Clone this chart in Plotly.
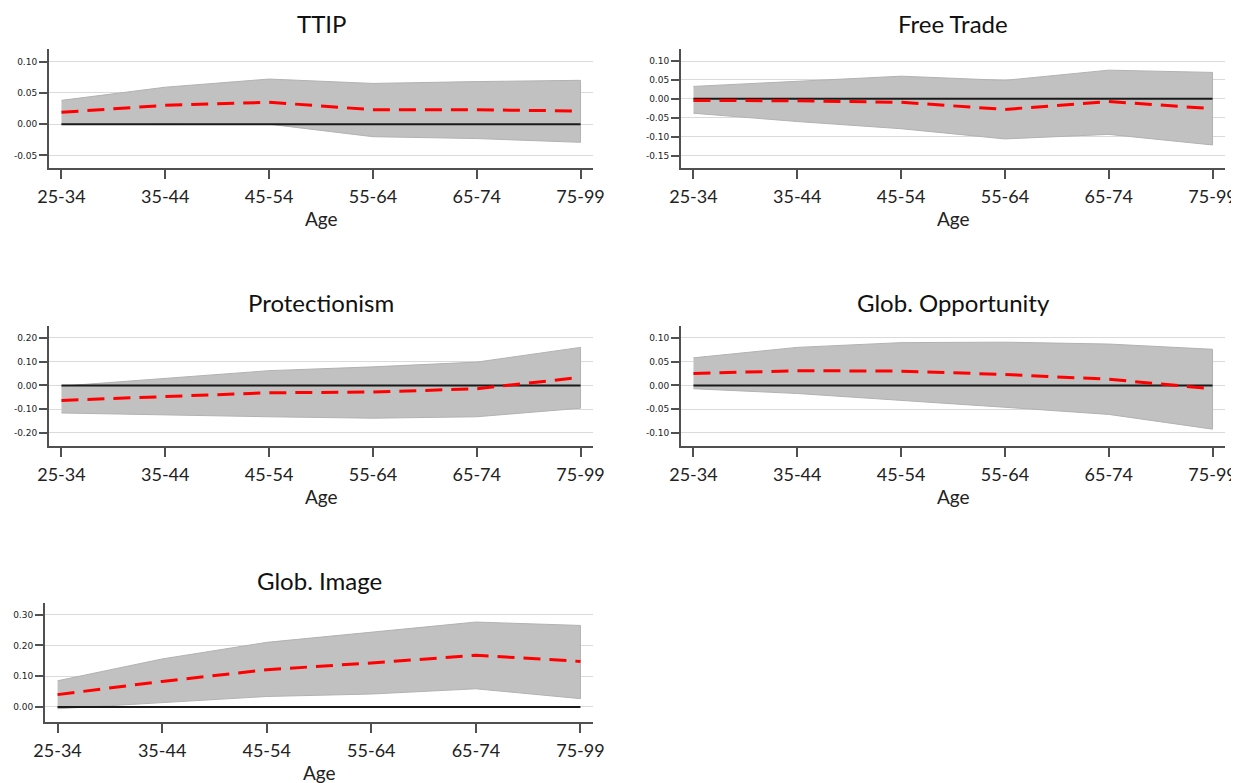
import plotly.graph_objects as go

OFF = 8  # page body margin compensation
W, H = 1239 - OFF, 783

age_groups = ["25-34", "35-44", "45-54", "55-64", "65-74", "75-99"]
x_idx = [0, 1, 2, 3, 4, 5]

titles = ["TTIP", "Free Trade", "Protectionism", "Glob. Opportunity", "Glob. Image"]

# point estimates (red dashed)
ttip_est = [0.019, 0.030, 0.035, 0.023, 0.023, 0.021]
free_est = [-0.004, -0.005, -0.009, -0.028, -0.007, -0.026]
prot_est = [-0.063, -0.048, -0.031, -0.028, -0.014, 0.034]
opp_est = [0.025, 0.031, 0.030, 0.023, 0.013, -0.007]
img_est = [0.040, 0.083, 0.121, 0.143, 0.168, 0.148]

# upper confidence bounds
ttip_hi = [0.038, 0.059, 0.072, 0.065, 0.068, 0.070]
free_hi = [0.033, 0.047, 0.060, 0.049, 0.076, 0.070]
prot_hi = [-0.003, 0.030, 0.062, 0.078, 0.098, 0.160]
opp_hi = [0.058, 0.080, 0.090, 0.091, 0.087, 0.076]
img_hi = [0.085, 0.156, 0.210, 0.243, 0.276, 0.265]

# lower confidence bounds
ttip_lo = [0.000, 0.001, 0.000, -0.020, -0.023, -0.029]
free_lo = [-0.038, -0.060, -0.079, -0.106, -0.094, -0.122]
prot_lo = [-0.116, -0.124, -0.132, -0.138, -0.132, -0.096]
opp_lo = [-0.007, -0.017, -0.031, -0.046, -0.061, -0.092]
img_lo = [-0.006, 0.013, 0.034, 0.042, 0.059, 0.027]

# y tick values / labels per panel
ttip_ticks = [-0.05, 0.0, 0.05, 0.10]
ttip_ticktext = ["-0.05", "0.00", "0.05", "0.10"]
free_ticks = [-0.15, -0.10, -0.05, 0.0, 0.05, 0.10]
free_ticktext = ["-0.15", "-0.10", "-0.05", "0.00", "0.05", "0.10"]
prot_ticks = [-0.20, -0.10, 0.0, 0.10, 0.20]
prot_ticktext = ["-0.20", "-0.10", "0.00", "0.10", "0.20"]
opp_ticks = [-0.10, -0.05, 0.0, 0.05, 0.10]
opp_ticktext = ["-0.10", "-0.05", "0.00", "0.05", "0.10"]
img_ticks = [0.0, 0.10, 0.20, 0.30]
img_ticktext = ["0.00", "0.10", "0.20", "0.30"]

panels = [
    dict(est=ttip_est, hi=ttip_hi, lo=ttip_lo, tv=ttip_ticks, tt=ttip_ticktext,
         yr=[-0.070, 0.120], px=(49, 593), py=(49, 168)),
    dict(est=free_est, hi=free_hi, lo=free_lo, tv=free_ticks, tt=free_ticktext,
         yr=[-0.183, 0.132], px=(681, 1225), py=(49, 168)),
    dict(est=prot_est, hi=prot_hi, lo=prot_lo, tv=prot_ticks, tt=prot_ticktext,
         yr=[-0.255, 0.250], px=(49, 593), py=(326, 446)),
    dict(est=opp_est, hi=opp_hi, lo=opp_lo, tv=opp_ticks, tt=opp_ticktext,
         yr=[-0.1275, 0.125], px=(681, 1225), py=(326, 446)),
    dict(est=img_est, hi=img_hi, lo=img_lo, tv=img_ticks, tt=img_ticktext,
         yr=[-0.049, 0.338], px=(45, 593), py=(603, 722)),
]
title_y = [24, 24, 302, 302, 580]

fig = go.Figure()
layout = {}
annotations = []
axis_color = "#505050"

for i, p in enumerate(panels):
    n = "" if i == 0 else str(i + 1)
    xa, ya = "x" + n, "y" + n
    # band
    fig.add_trace(go.Scatter(x=x_idx + x_idx[::-1], y=p["hi"] + p["lo"][::-1],
                             xaxis=xa, yaxis=ya, fill="toself",
                             fillcolor="rgb(193,193,193)",
                             line=dict(color="rgb(178,178,178)", width=1),
                             mode="lines", hoverinfo="skip", showlegend=False))
    # zero line
    fig.add_trace(go.Scatter(x=x_idx, y=[0] * len(x_idx), xaxis=xa, yaxis=ya,
                             mode="lines", line=dict(color="#1a1a1a", width=2),
                             showlegend=False))
    # estimate
    fig.add_trace(go.Scatter(x=x_idx, y=p["est"], xaxis=xa, yaxis=ya,
                             mode="lines", line=dict(color="#ff0000", width=3,
                                                     dash="17px,9px"),
                             showlegend=False))
    x0, x1 = p["px"][0] - OFF, p["px"][1] - OFF
    y0, y1 = p["py"][0] - OFF, p["py"][1] - OFF
    layout["xaxis" + n] = dict(
        domain=[x0 / W, x1 / W], anchor=ya, range=[-0.12, 5.12],
        automargin=False,
        tickvals=x_idx, ticktext=age_groups, showgrid=False, zeroline=False,
        showline=True, linecolor=axis_color, linewidth=2,
        ticks="outside", ticklen=9, tickwidth=1.5, tickcolor=axis_color,
        ticklabelstandoff=2,
        tickfont=dict(family="Lato", size=18, color="#222"),
    )
    layout["yaxis" + n] = dict(
        domain=[1 - y1 / H, 1 - y0 / H], anchor=xa, range=p["yr"],
        automargin=False,
        tickvals=p["tv"], ticktext=p["tt"], showgrid=True,
        gridcolor="#dadada", gridwidth=1, zeroline=False,
        showline=True, linecolor=axis_color, linewidth=2,
        ticks="outside", ticklen=8, tickwidth=1.5, tickcolor=axis_color,
        tickfont=dict(family="DejaVu Sans", size=9, color="#222"),
    )
    annotations.append(dict(text=titles[i], x=(x0 + x1) / 2 / W,
                            y=1 - (title_y[i] - OFF) / H, xref="paper", yref="paper",
                            xanchor="center", yanchor="middle", showarrow=False,
                            font=dict(family="Lato", size=24, color="#111")))
    # axis title "Age"
    annotations.append(dict(text="Age", x=(x0 + x1) / 2 / W,
                            y=1 - (y1 + 50) / H, xref="paper", yref="paper",
                            xanchor="center", yanchor="middle", showarrow=False,
                            font=dict(family="Lato", size=19, color="#222")))

fig.update_layout(**layout)
fig.update_layout(width=W, height=H, margin=dict(l=0, r=0, t=0, b=0),
                  plot_bgcolor="white", paper_bgcolor="white",
                  annotations=annotations, showlegend=False)

fig.write_html("out.html")
